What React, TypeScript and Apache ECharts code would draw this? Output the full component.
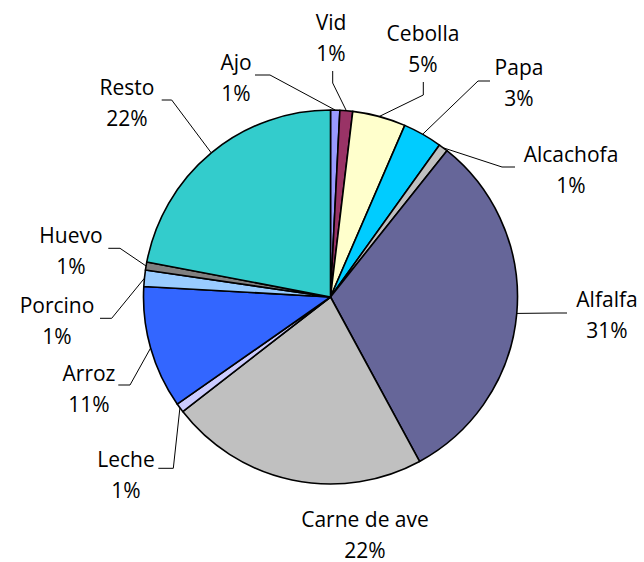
import React, { useEffect, useRef } from 'react';
import * as echarts from 'echarts';

const categories = ['Ajo', 'Vid', 'Cebolla', 'Papa', 'Alcachofa', 'Alfalfa', 'Carne de ave', 'Leche', 'Arroz', 'Porcino', 'Huevo', 'Resto'];
const values = [0.8, 1.1, 4.6, 3.4, 0.8, 31.4, 22.4, 0.8, 10.6, 1.4, 0.7, 22.0];
const colors = ['#9999FF', '#993366', '#FFFFCC', '#00CCFF', '#C0C0C0', '#666699', '#C0C0C0', '#CCCCFF', '#3366FF', '#99CCFF', '#808080', '#33CCCC'];

// label block centre and leader-line knee / end: [x, y, kneeX, kneeY, endX, endY]
const labelSpots: number[][] = [
  [236, 77, 270, 75, 255, 75],
  [331, 37.5, 332.7, 83, 332.7, 71],
  [423, 48.5, 423.3, 95, 423.3, 82],
  [519, 82.5, 478, 81, 490, 81],
  [571, 169, 502, 167, 515, 167],
  [607, 314.5, 556, 313, 567, 313],
  [365, 534, 342, 311, 342, 318],
  [126, 474.5, 173.3, 468.3, 158.3, 468.3],
  [89, 388, 130, 385, 118.3, 385],
  [57, 320, 111.7, 318.3, 100, 318.3],
  [71, 250.7, 120, 248.3, 108.3, 248.3],
  [127, 102, 171.7, 100, 161.7, 100],
];

export default function App() {
  const ref = useRef<HTMLDivElement>(null);
  useEffect(() => {
    if (!ref.current) return;
    const chart = echarts.init(ref.current, null, { renderer: 'svg' });
    chart.setOption({
      animation: false,
      backgroundColor: '#ffffff',
      series: [
        {
          type: 'pie',
          center: [330.5, 297],
          radius: 187,
          startAngle: 90,
          clockwise: true,
          percentPrecision: 0,
          avoidLabelOverlap: false,
          itemStyle: { borderColor: '#000', borderWidth: 1.6 },
          label: {
            show: true,
            position: 'outside',
            formatter: '{b}\n{d}%',
            fontFamily: 'Open Sans',
            fontSize: 21,
            lineHeight: 31,
            color: '#000',
            align: 'center',
          },
          labelLine: { show: true, lineStyle: { color: '#000', width: 1 } },
          labelLayout: (params: any) => {
            const s = labelSpots[params.dataIndex];
            const pts = params.labelLinePoints;
            const start = params.dataIndex === 6 ? [342, 305] : (pts && pts[0]) || [s[2], s[3]];
            return {
              x: s[0],
              y: s[1],
              align: 'center',
              verticalAlign: 'middle',
              labelLinePoints: [start, [s[2], s[3]], [s[4], s[5]]],
            };
          },
          data: categories.map((name, i) => ({
            name,
            value: values[i],
            itemStyle: { color: colors[i] },
          })),
        },
      ],
    });
    return () => chart.dispose();
  }, []);
  return <div ref={ref} style={{ position: 'absolute', left: 0, top: 0, width: 644, height: 562 }} />;
}
